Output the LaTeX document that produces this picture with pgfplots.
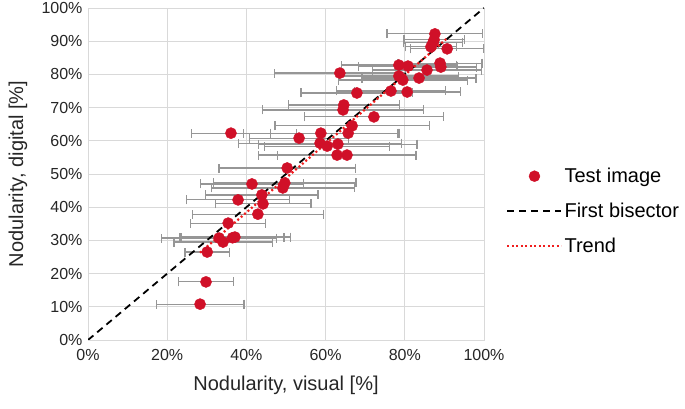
\documentclass[border=0pt]{standalone}
\usepackage{pgfplots}
\usepackage{pgfplotstable}
\pgfplotsset{compat=1.18}
\usepackage{fontspec}
\setmainfont{Liberation Sans}
\definecolor{ptred}{RGB}{208,16,40}
\definecolor{trendred}{RGB}{240,30,30}
\definecolor{errgray}{RGB}{150,150,150}
\definecolor{gridgray}{RGB}{217,217,217}
\pgfplotstableread{
x y e
87.6 92.2 12.1
87.4 90.4 7.6
87.1 89.5 7.5
86.6 88.3 6.5
90.7 87.7 9.3
78.5 82.8 14.5
80.8 82.5 12.4
88.9 83.4 10.6
89.1 82.2 9.0
85.6 81.3 13.8
63.6 80.4 16.5
78.5 79.5 15.0
79.5 78.3 16.3
83.6 78.9 14.4
67.9 74.4 14.1
76.5 75.0 13.7
80.6 74.7 13.4
64.6 70.8 14.0
64.4 69.3 20.4
72.2 67.2 17.6
66.7 64.5 19.5
65.7 62.3 13.0
58.8 62.3 19.5
36.1 62.3 10.0
53.3 60.8 12.5
58.6 59.3 20.5
60.4 58.4 15.8
63.1 59.0 20.0
62.9 55.7 19.8
65.4 55.7 17.5
50.3 51.8 17.2
41.4 47.0 13.0
49.7 47.3 18.0
49.2 45.8 18.0
43.9 43.7 14.2
37.9 42.2 13.0
44.2 41.0 12.1
42.9 37.9 16.5
35.4 35.2 9.5
33.1 30.7 14.5
34.1 29.5 12.4
36.5 30.8 13.0
37.1 31.0 14.0
30.1 26.5 5.6
29.8 17.5 7.0
28.3 10.8 11.1
}\datatable
\begin{document}
\begin{tikzpicture}[x=1pt,y=1pt]
\useasboundingbox (0,0) rectangle (685,409);
\begin{axis}[
  at={(88pt,69pt)}, anchor=south west,
  width=396pt, height=332pt, scale only axis,
  xmin=0, xmax=100, ymin=0, ymax=100,
  xtick={0,20,...,100},
  xticklabels={0\%,20\%,40\%,60\%,80\%,100\%},
  ytick={0,10,...,100},
  yticklabels={0\%,10\%,20\%,30\%,40\%,50\%,60\%,70\%,80\%,90\%,100\%},
  grid=major, grid style={gridgray, line width=0.9pt},
  axis line style={gridgray, line width=0.9pt},
  major tick length=0pt,
  tick label style={font=\fontsize{16}{19}\selectfont, text=black!85},
  xticklabel style={yshift=-6pt},
  yticklabel style={xshift=-2pt},
  xlabel={Nodularity, visual [\%]},
  ylabel={Nodularity, digital [\%]},
  label style={font=\fontsize{20}{24}\selectfont, text=black!85},
  xlabel style={at={(axis description cs:0.5,-0.1355)}, anchor=center},
  ylabel style={at={(axis description cs:-0.177,0.5)}, anchor=center},
  legend style={at={(axis description cs:1.056,0.388)}, anchor=west,
    draw=none, fill=none, inner sep=0pt,
    font=\fontsize{20}{24}\selectfont, row sep=15pt,
    /tikz/every even column/.append style={column sep=3pt}},
  legend cell align=left,
]
\addplot[draw=none, mark=none, forget plot,
  error bars/.cd, x dir=both, x explicit, error mark=|,
  error bar style={draw=errgray, line width=1.2pt},
  error mark options={draw=errgray, line width=1.2pt, mark size=4.5pt}]
  table[x=x, y=y, x error=e]{\datatable};
\addplot[only marks, mark=*, mark size=5.6pt, mark options={draw=ptred, fill=ptred},
  legend image code/.code={\fill[ptred] (27pt,0pt) circle (5.5pt);}]
  table[x=x, y=y]{\datatable};
\addlegendentry{Test image}
\addplot[black, line width=1.8pt, dash pattern=on 7pt off 5pt,
  legend image code/.code={\draw[black, line width=1.8pt, dash pattern=on 7pt off 5pt] (0pt,0pt) -- (54pt,0pt);}]
  coordinates {(0,0) (100,100)};
\addlegendentry{First bisector}
\addplot[trendred, line width=2.2pt, dash pattern=on 2pt off 2.5pt,
  legend image code/.code={\draw[trendred, line width=2.2pt, dash pattern=on 2pt off 2.5pt] (0pt,0pt) -- (54pt,0pt);}]
  coordinates {(28.3,26.3) (90.7,90.9)};
\addlegendentry{Trend}
\end{axis}
\end{tikzpicture}
\end{document}
